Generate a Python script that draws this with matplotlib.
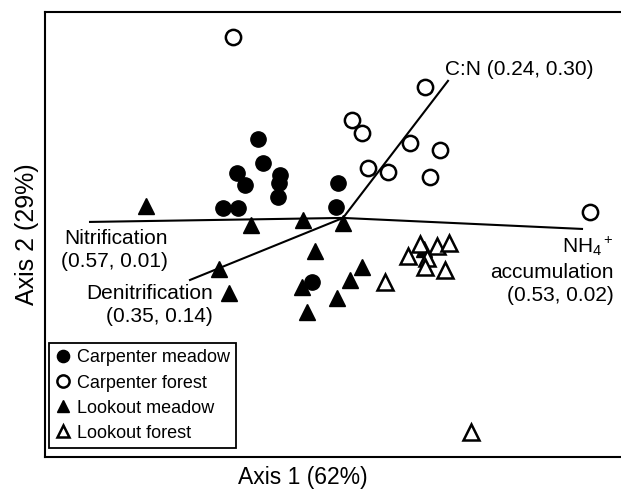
import matplotlib.pyplot as plt

plt.rcParams['font.family'] = ['Liberation Sans', 'DejaVu Sans']
plt.rcParams['mathtext.fontset'] = 'custom'
plt.rcParams['mathtext.rm'] = 'Liberation Sans'
plt.rcParams['mathtext.it'] = 'Liberation Sans'
plt.rcParams['mathtext.default'] = 'regular'

# ordination scores
cm_x = [-0.85, -0.80, -1.06, -0.98, -0.63, -0.64, -0.65, -1.20, -1.05, -0.05, -0.07, -0.31]
cm_y = [0.79, 0.55, 0.45, 0.33, 0.43, 0.35, 0.21, 0.10, 0.10, 0.35, 0.11, -0.64]

cf_x = [-1.10, 0.82, 0.09, 0.19, 0.67, 0.97, 0.25, 0.45, 0.87, 2.47]
cf_y = [1.81, 1.31, 0.98, 0.85, 0.75, 0.68, 0.50, 0.46, 0.41, 0.06]

lm_x = [-1.97, -0.92, -0.40, 0.00, -0.28, -1.24, -1.14, -0.41, -0.36, -0.06, 0.07, 0.19, 0.81]
lm_y = [0.12, -0.07, -0.02, -0.05, -0.33, -0.51, -0.75, -0.69, -0.94, -0.80, -0.62, -0.49, -0.31]

lf_x = [0.65, 0.77, 0.94, 1.06, 0.84, 0.82, 1.02, 0.42, 1.28]
lf_y = [-0.38, -0.26, -0.28, -0.25, -0.40, -0.49, -0.52, -0.64, -2.14]

# environmental vectors (end points)
vec_names = ['C:N', 'Nitrification', 'NH4', 'Denitrification']
vec_x = [1.05, -2.53, 2.39, -1.53]
vec_y = [1.37, -0.04, -0.11, -0.62]

fig = plt.figure(figsize=(6.21, 4.92), dpi=100)
ax = fig.add_axes([0.0725, 0.071, 0.9275, 0.905])

for vx, vy in zip(vec_x, vec_y):
    ax.plot([0, vx], [0, vy], color='black', lw=1.5, zorder=1)

ax.plot(cm_x, cm_y, 'o', ms=11, mfc='black', mec='black', ls='none',
        label='Carpenter meadow', zorder=3)
ax.plot(cf_x, cf_y, 'o', ms=11, mfc='white', mec='black', mew=1.8, ls='none',
        label='Carpenter forest', zorder=3)
ax.plot(lm_x, lm_y, '^', ms=11.5, mfc='black', mec='black', ls='none',
        label='Lookout meadow', zorder=3)
ax.plot(lf_x, lf_y, '^', ms=11.5, mfc='white', mec='black', mew=1.8, ls='none',
        label='Lookout forest', zorder=3)

fs = 15
ls = 1.3
ax.text(1.02, 1.48, 'C:N (0.24, 0.30)', fontsize=fs, ha='left', va='center')
ax.text(-1.75, -0.32, 'Nitrification\n(0.57, 0.01)', fontsize=fs,
        ha='right', va='center', multialignment='right', linespacing=ls)
ax.text(-1.30, -0.87, 'Denitrification\n(0.35, 0.14)', fontsize=fs,
        ha='right', va='center', multialignment='right', linespacing=ls)
ax.text(2.71, -0.52, 'NH$_4$$^+$\naccumulation\n(0.53, 0.02)', fontsize=fs,
        ha='right', va='center', multialignment='right', linespacing=ls)

ax.set_xlim(-2.98, 2.78)
ax.set_ylim(-2.39, 2.06)
ax.set_xticks([])
ax.set_yticks([])
for s in ['left', 'top', 'bottom']:
    ax.spines[s].set_linewidth(1.5)
ax.spines['right'].set_visible(False)

ax.set_xlabel('Axis 1 (62%)', fontsize=16.5)
ax.xaxis.set_label_coords(0.448, -0.02)
ax.set_ylabel('Axis 2 (29%)', fontsize=18)
ax.yaxis.set_label_coords(-0.01, 0.5)

leg = ax.legend(loc='upper left', bbox_to_anchor=(0.007, 0.256), borderaxespad=0,
                fontsize=13, markerscale=0.8, handlelength=0.8, handletextpad=0.4,
                labelspacing=0.45, borderpad=0.35, fancybox=False, framealpha=1)
leg.get_frame().set_edgecolor('black')
leg.get_frame().set_linewidth(1.3)

fig.savefig('out.png', dpi=100)
